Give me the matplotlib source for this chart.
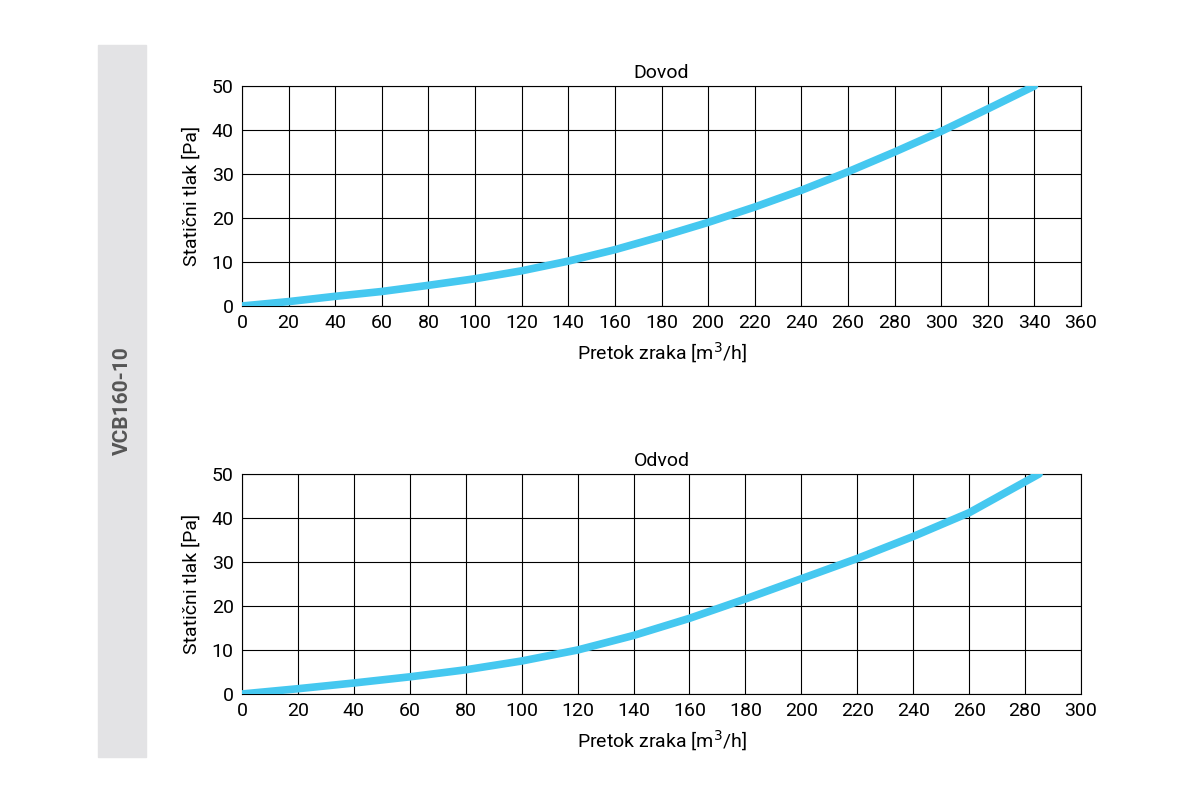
import matplotlib
matplotlib.use("Agg")
import matplotlib.pyplot as plt
from matplotlib.patches import Rectangle

plt.rcParams['font.family'] = ['Roboto', 'DejaVu Sans']

sup_x = [0, 20, 40, 60, 80, 100, 120, 140, 160, 180, 200, 220, 240, 260, 280, 300, 320, 340]
sup_y = [0, 1, 2.2, 3.3, 4.7, 6.2, 8, 10.2, 12.8, 15.8, 19, 22.5, 26.3, 30.5, 35, 39.7, 44.8, 50]
ext_x = [0, 20, 40, 60, 80, 100, 120, 140, 160, 180, 200, 220, 240, 260, 285]
ext_y = [0, 1.2, 2.5, 3.9, 5.5, 7.5, 10, 13.3, 17.2, 21.6, 26.2, 30.8, 35.8, 41.2, 50]
yticks = [0, 10, 20, 30, 40, 50]

W, H = 1200, 800
fig = plt.figure(figsize=(12, 8), dpi=100)
fig.patches.append(Rectangle((98/W, 1-757/H), 48/W, 712/H, transform=fig.transFigure,
                             color='#e3e3e5', zorder=0))
fig.text(122/W, 1-401/H, 'VCB160-10', rotation=90, ha='center', va='center',
         fontsize=15, fontweight='bold', color='#555555')

def make(top, xs, ys, xmax, title):
    ax = fig.add_axes([242/W, 1-(top+220)/H, 839/W, 220/H])
    ax.plot(xs, ys, color='#45c8f0', lw=5.5, solid_capstyle='round', zorder=3)
    ax.set_xlim(0, xmax)
    ax.set_ylim(0, 50)
    ax.set_xticks(range(0, xmax+1, 20))
    ax.set_yticks(yticks)
    ax.grid(True, color='black', lw=0.8)
    for s in ax.spines.values():
        s.set_linewidth(0.8)
    ax.tick_params(length=0, labelsize=14, pad=6)
    ax.set_title(title, fontsize=14, pad=6)
    ax.set_xlabel('Pretok zraka [m$^3$/h]', fontsize=14, labelpad=6)
    ax.set_ylabel('Statični tlak [Pa]', fontsize=14, labelpad=8)

make(86, sup_x, sup_y, 360, 'Dovod')
make(474, ext_x, ext_y, 300, 'Odvod')
fig.savefig('out.png', dpi=100)
